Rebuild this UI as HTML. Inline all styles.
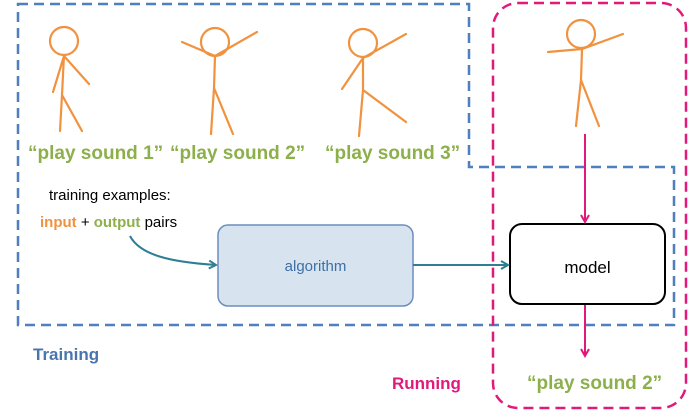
<!DOCTYPE html>
<html><head><style>body{margin:0;background:#fff}</style></head><body>
<svg width="689" height="410" xmlns="http://www.w3.org/2000/svg" font-family="Liberation Sans, sans-serif">
<defs>
<marker id="ap" markerWidth="10" markerHeight="10" refX="8" refY="5" orient="auto" markerUnits="userSpaceOnUse"><path d="M1,1 L8,5 L1,9" fill="none" stroke="#e0197a" stroke-width="2"/></marker>
<marker id="at" markerWidth="10" markerHeight="10" refX="8" refY="5" orient="auto" markerUnits="userSpaceOnUse"><path d="M1,1 L8,5 L1,9" fill="none" stroke="#2e7f95" stroke-width="2"/></marker>
</defs>
<path d="M18,4 H469 V167 H674 V325 H18 Z" fill="none" stroke="#4f7fbd" stroke-width="2.5" stroke-dasharray="10,6"/>
<rect x="493" y="3" width="193" height="405" rx="25" fill="none" stroke="#e0197a" stroke-width="2.5" stroke-dasharray="10,6"/>
<g stroke="#f0923e" stroke-width="2.2" fill="none" stroke-linecap="round">
<circle cx="64" cy="41" r="14"/><path d="M64,55 L62,95 M64,56 L53,92 M64,56 L89,84 M62,95 L60,131 M62,95 L82,131"/>
<circle cx="215" cy="42" r="14"/><path d="M182,42 L215,56 L257,32 M215,56 L214,88 M214,88 L211,134 M214,88 L233,134"/>
<circle cx="363" cy="43" r="14"/><path d="M342,89 L363,58 L406,34 M363,58 L363,90 L359,136 M363,90 L406,122"/>
<circle cx="581" cy="34" r="14"/><path d="M548,52 L582,49 L623,34 M582,49 L581,80 M581,80 L576,126 M581,80 L599,126"/>
</g>
<g fill="#8db04c" font-weight="bold" font-size="19">
<text x="28" y="159">“play sound 1”</text>
<text x="170" y="159">“play sound 2”</text>
<text x="325" y="159">“play sound 3”</text>
<text x="527" y="389">“play sound 2”</text>
</g>
<text x="49" y="200" font-size="15">training examples:</text>
<text x="40" y="227" font-size="15"><tspan fill="#f0923e" font-weight="bold">input</tspan> + <tspan fill="#8db04c" font-weight="bold">output</tspan> pairs</text>
<rect x="218" y="225" width="195" height="81" rx="10" fill="#d8e3f0" stroke="#6c8ebf" stroke-width="1.5"/>
<text x="315.5" y="271" font-size="15" fill="#3d6fa6" text-anchor="middle">algorithm</text>
<rect x="510" y="224" width="155" height="80" rx="12" fill="#fff" stroke="#000" stroke-width="2"/>
<text x="587.5" y="273" font-size="17" text-anchor="middle">model</text>
<path d="M130,236 C140,255 170,262 216,265" fill="none" stroke="#2e7f95" stroke-width="2" marker-end="url(#at)"/>
<path d="M413,265 L508,265" fill="none" stroke="#2e7f95" stroke-width="2" marker-end="url(#at)"/>
<path d="M585,134 L585,222" stroke="#e0197a" stroke-width="2" marker-end="url(#ap)"/>
<path d="M585,305 L585,356" stroke="#e0197a" stroke-width="2" marker-end="url(#ap)"/>
<text x="33" y="360" font-size="17" font-weight="bold" fill="#4a74b0">Training</text>
<text x="392" y="389" font-size="17" font-weight="bold" fill="#e0197a">Running</text>
</svg>
</body></html>
